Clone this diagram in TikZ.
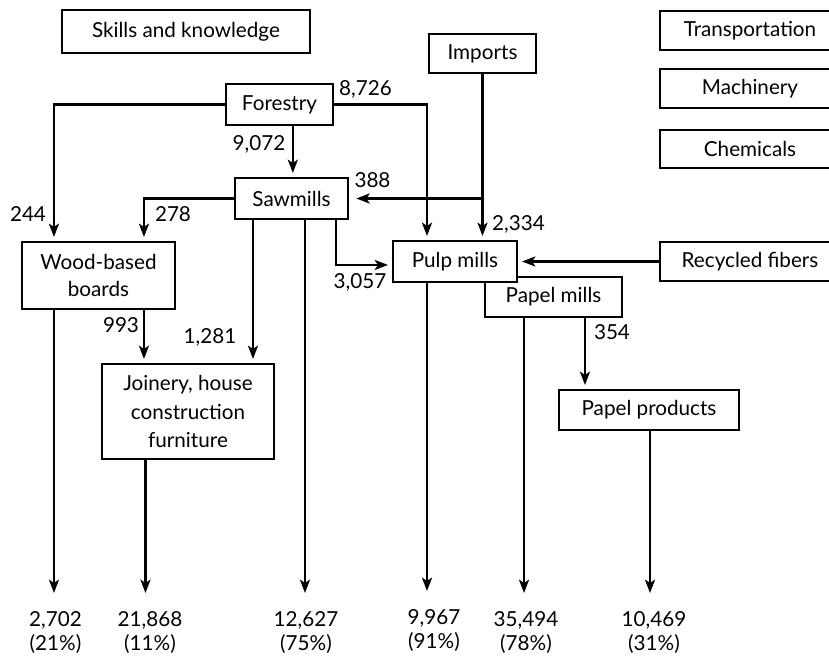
\documentclass[tikz,border=0pt]{standalone}
\usepackage{fontspec}
\setmainfont{Lato}
\usetikzlibrary{arrows.meta,positioning,calc}

\begin{document}
\begin{tikzpicture}[
  x=0.75pt,y=-0.75pt,
  font=\fontsize{15.5}{20}\selectfont,
  box/.style={draw,line width=1.5pt,fill=white,align=center,inner sep=2pt},
  arrow/.style={-{Stealth[length=10pt,width=7.5pt,inset=2.5pt]},line width=1.8pt,shorten >=3pt},
  lbl/.style={inner sep=0pt},
  outval/.style={anchor=north,align=center,inner xsep=0pt,inner ysep=10.5pt,font=\fontsize{15.5}{18}\selectfont}
]
  \useasboundingbox (0,0) rectangle (829,656);
  \clip (0,0) rectangle (829,656);

  \node[box,minimum width=186pt,minimum height=32.25pt] (skills) at (186,31.5) {Skills and knowledge};
  \node[box,minimum width=135pt,minimum height=29.25pt] (transport) at (750,30.5) {Transportation};
  \node[box,minimum width=135pt,minimum height=29.25pt] (machinery) at (750,88.5) {Machinery};
  \node[box,minimum width=135pt,minimum height=28.5pt] (chemicals) at (750,149) {Chemicals};
  \node[box,minimum width=135pt,minimum height=29.25pt] (recycled) at (750,261.5) {Recycled fibers};
  \node[box,minimum width=80.25pt,minimum height=29.25pt] (imports) at (482.5,53.5) {Imports};
  \node[box,minimum width=80.25pt,minimum height=30.75pt] (forestry) at (279.5,104.5) {Forestry};
  \node[box,minimum width=84.75pt,minimum height=30.75pt] (sawmills) at (291.5,198.5) {Sawmills};
  \node[box,minimum width=114.75pt,minimum height=50.25pt] (wood) at (98.5,275.5) {Wood-based\\boards};
  \node[box,minimum width=102.75pt,minimum height=30pt] (papelmills) at (553.5,297) {Papel mills};
  \node[box,minimum width=93pt,minimum height=30.75pt] (pulp) at (455,261.5) {Pulp mills};
  \node[box,minimum width=129pt,minimum height=71.25pt,font=\fontsize{15.5}{21.4}\selectfont] (joinery) at (188,411.5) {Joinery, house\\construction\\furniture};
  \node[box,minimum width=135pt,minimum height=30pt] (papelprod) at (649,410) {Papel products};

  \node[outval] (out1) at (55.5,597) {2,702\\(21\%)};
  \node[outval] (out2) at (150,597) {21,868\\(11\%)};
  \node[outval] (out3) at (306,597) {12,627\\(75\%)};
  \node[outval] (out4) at (434,595) {9,967\\(91\%)};
  \node[outval] (out5) at (526,597) {35,494\\(78\%)};
  \node[outval] (out6) at (654,597) {10,469\\(31\%)};

  \coordinate (split) at (imports.south |- sawmills.east);

  \draw[arrow] (forestry.west) -| ([xshift=-33.4pt]wood.north) node[lbl] at (28,214) {244};
  \draw[arrow] (forestry.east) -| ([xshift=-21pt]pulp.north) node[lbl] at (365.5,89) {8,726};
  \draw[arrow] ([xshift=10pt]forestry.south) -- ([xshift=10pt]forestry.south |- sawmills.north) node[lbl] at (259,144) {9,072};
  \draw[arrow] (sawmills.west) -| ([xshift=34.1pt]wood.north) node[lbl] at (173,214) {278};
  \draw[arrow] (imports.south) -- (imports.south |- pulp.north) node[lbl] at (518.5,224) {2,334};
  \draw[arrow,shorten >=5.5pt] (split) -- (sawmills.east) node[lbl] at (372.5,180) {388};
  \draw[arrow] ([xshift=33.4pt]sawmills.south) |- ([yshift=-2.6pt]pulp.west) node[lbl] at (360,282) {3,057};
  \draw[arrow] (recycled.west) -- (pulp.east);
  \draw[arrow] ([xshift=-28.9pt]sawmills.south) -- ([xshift=-28.9pt]sawmills.south |- joinery.north) node[lbl] at (210,337) {1,281};
  \draw[arrow] ([xshift=34.1pt]wood.south) -- ([xshift=34.1pt]wood.south |- joinery.north) node[lbl] at (121,325) {993};
  \draw[arrow] ([xshift=23.6pt]papelmills.south) -- ([xshift=23.6pt]papelmills.south |- papelprod.north) node[lbl] at (612,332) {354};

  \draw[arrow] ([xshift=-33.4pt]wood.south) -- ([xshift=-33.4pt]wood.south |- out1.north);
  \draw[arrow] ([xshift=-31.9pt]joinery.south) -- ([xshift=-31.9pt]joinery.south |- out2.north);
  \draw[arrow] ([xshift=10.1pt]sawmills.south) -- ([xshift=10.1pt]sawmills.south |- out3.north);
  \draw[arrow] ([xshift=-21pt]pulp.south) -- ([xshift=-21pt]pulp.south |- out4.north);
  \draw[arrow] ([xshift=-22.1pt]papelmills.south) -- ([xshift=-22.1pt]papelmills.south |- out5.north);
  \draw[arrow] ([xshift=0.75pt]papelprod.south) -- ([xshift=0.75pt]papelprod.south |- out6.north);
\end{tikzpicture}
\end{document}
